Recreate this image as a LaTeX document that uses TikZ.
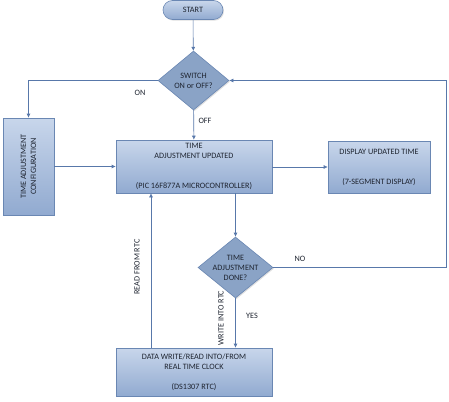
\documentclass[tikz,border=0pt]{standalone}
\usepackage{fontspec}
\setmainfont{Carlito}
\usepackage{xcolor}
\usepackage{tikz}
\usetikzlibrary{shapes.geometric,arrows.meta,shadows}
\definecolor{FlowTop}{HTML}{C8D6EB}
\definecolor{FlowBottom}{HTML}{91AAD0}
\definecolor{FlowEdge}{HTML}{6A87B3}
\definecolor{FlowDiamond}{HTML}{8AA3C6}
\definecolor{FlowLine}{HTML}{5878AA}
\definecolor{FlowInk}{HTML}{1E2430}

\begin{document}
\begin{tikzpicture}[
  x=1pt, y=-1pt,
  font=\fontsize{8.2}{10}\selectfont, text=FlowInk,
  procbox/.style={draw=FlowEdge, top color=FlowTop, bottom color=FlowBottom, line width=0.6pt, align=center, inner sep=0pt,
    drop shadow={shadow xshift=1pt, shadow yshift=-1.2pt, opacity=0.25}},
  decbox/.style={diamond, draw=FlowEdge, fill=FlowDiamond, line width=0.6pt, inner sep=0pt,
    drop shadow={shadow xshift=1pt, shadow yshift=-1.2pt, opacity=0.25}},
  ln/.style={draw=FlowLine, line width=0.6pt},
  ar/.style={ln, -{Latex[length=4pt,width=4pt]}},
  lbl/.style={inner sep=1pt}
]
\useasboundingbox (0,0) rectangle (449,401);
\node[procbox, rounded corners=9.5pt, minimum width=60pt, minimum height=19pt] (start) at (193,10) {START};
\node[decbox, minimum width=71pt, minimum height=59pt, label={[align=center]center:SWITCH\\ON or OFF?}] (sw) at (193.5,80.5) {};
\node[procbox, minimum width=51pt, minimum height=97pt] (cfg) at (28.5,166.5) {};
\node[rotate=90, align=center] (cfgtxt) at (cfg.center) {TIME ADJUSTMENT\\CONFIGURATION};
\node[procbox, minimum width=156pt, minimum height=53pt] (main) at (194,166.5) {TIME\\ADJUSTMENT UPDATED\\[20pt](PIC 16F877A MICROCONTROLLER)};
\node[procbox, minimum width=102pt, minimum height=52pt] (disp) at (379,167) {DISPLAY UPDATED TIME\\[20pt](7-SEGMENT DISPLAY)};
\node[decbox, minimum width=75pt, minimum height=61pt, label={[align=center]center:TIME\\ADJUSTMENT\\DONE?}] (dn) at (235.5,267.5) {};
\node[procbox, minimum width=156pt, minimum height=48pt] (rtc) at (194,372) {DATA WRITE/READ INTO/FROM\\REAL TIME CLOCK\\[10pt](DS1307 RTC)};
\coordinate (rt) at (446,267.5);

% connectors
\draw[ar] (start) -- (sw);
\draw[ar] (sw.west) -| (cfg.north);
\draw[ar] (sw) -- (main);
\draw[ar] (cfg.east) -- (cfg.east -| main.west);
\draw[ar] (main.east |- disp.west) -- (disp.west);
\draw[ar] (dn.north |- main.south) -- (dn.north);
\draw[ln] (dn.east) -- (rt);
\draw[ar] (rt) |- (sw.east);
\draw[ar] (dn.south) -- (dn.south |- rtc.north);
\draw[ar] ([xshift=-43pt]rtc.north) -- ([xshift=-43pt]main.south);

\foreach \x/\y/\txt in {140/93/ON, 205/121/OFF, 300/259/NO, 252/316/YES}{
  \node[lbl] (l\txt) at (\x,\y) {\txt};
}
\node[lbl, rotate=90] (lread) at (137,267) {READ FROM RTC};
\node[lbl, rotate=90] (lwrite) at (221,318) {WRITE INTO RTC};
\end{tikzpicture}
\end{document}
